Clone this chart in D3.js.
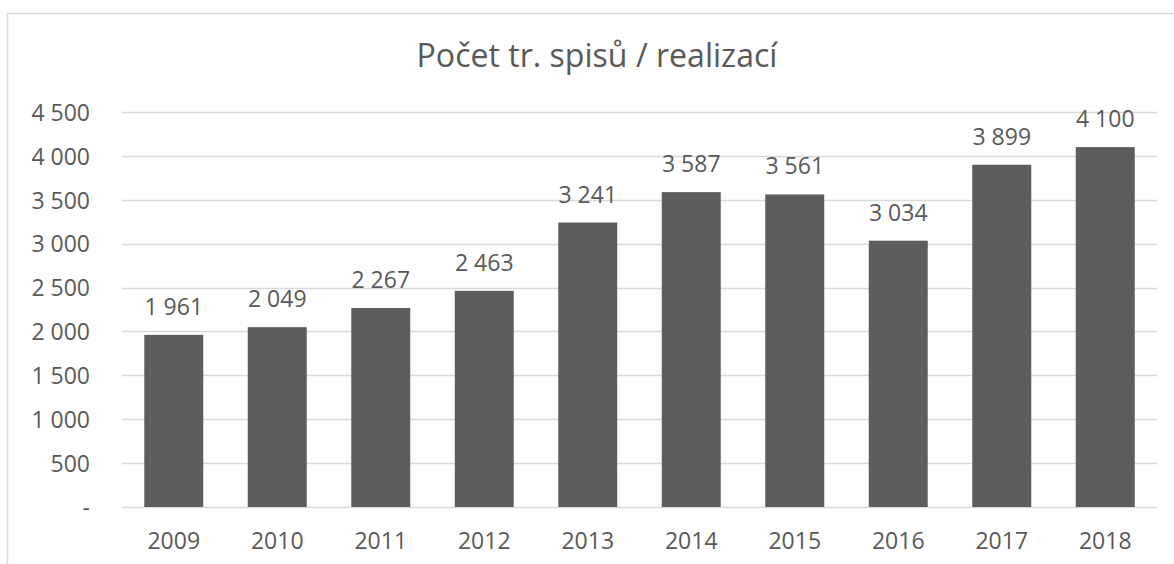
<!DOCTYPE html>
<html><head><meta charset="utf-8">
<script src="https://cdn.jsdelivr.net/npm/d3@7"></script>
<style>body{margin:0;background:#fff}svg{display:block}text{font-family:"Open Sans",sans-serif;fill:#595959}</style>
</head><body>
<svg id="c" width="1174" height="564"></svg>
<script>
const categories = ["2009","2010","2011","2012","2013","2014","2015","2016","2017","2018"];
const values = [1961,2049,2267,2463,3241,3587,3561,3034,3899,4100];
const yTicks = [0,500,1000,1500,2000,2500,3000,3500,4000,4500];
const title = "Počet tr. spisů / realizací";

const svg = d3.select("#c");
const fmt = v => v === 0 ? "-" : d3.format(",")(v).replace(/,/g, " ");

svg.append("rect").attr("x",7.5).attr("y",13.5).attr("width",1200).attr("height",600)
  .attr("fill","#fff").attr("stroke","#d9d9d9").attr("stroke-width",1.5);

const x = d3.scaleBand().domain(categories).range([122,1157]).paddingInner(0.43).paddingOuter(0.215);
const y = d3.scaleLinear().domain([0,4500]).range([507,112]);

svg.append("g").selectAll("line").data(yTicks).join("line")
  .attr("x1",122).attr("x2",1157).attr("y1",d=>Math.round(y(d))+0.5).attr("y2",d=>Math.round(y(d))+0.5)
  .attr("stroke","#d9d9d9").attr("stroke-width",1.3);

const yAxis = svg.append("g").attr("transform","translate(90,0)")
  .call(d3.axisLeft(y).tickValues(yTicks).tickFormat(fmt).tickSize(0).tickPadding(0));
yAxis.select(".domain").remove();
yAxis.selectAll("text").style("font-size","23px").style("font-family","'Open Sans',sans-serif").style("fill","#595959").attr("dy","0.36em");

svg.append("g").selectAll("rect").data(values).join("rect")
  .attr("x",(d,i)=>x(categories[i])).attr("width",x.bandwidth())
  .attr("y",d=>y(d)).attr("height",d=>y(0)-y(d)).attr("fill","#5d5d5d");

svg.append("g").selectAll("text").data(values).join("text")
  .attr("x",(d,i)=>x(categories[i])+x.bandwidth()/2).attr("y",d=>y(d)-20)
  .attr("text-anchor","middle").style("font-size","23px").text(fmt);

const xAxis = svg.append("g").attr("transform","translate(0,507)")
  .call(d3.axisBottom(x).tickSize(0).tickPadding(0));
xAxis.select(".domain").remove();
xAxis.selectAll("text").style("font-size","23px").style("font-family","'Open Sans',sans-serif").style("fill","#595959").attr("dy","0").attr("y",42);

const t = svg.append("text").attr("x",597).attr("y",67).attr("text-anchor","middle")
  .style("font-size","30px").text(title);
const w = t.node().getComputedTextLength();
t.style("font-size", (30*361/w).toFixed(2)+"px");
</script>
</body></html>
